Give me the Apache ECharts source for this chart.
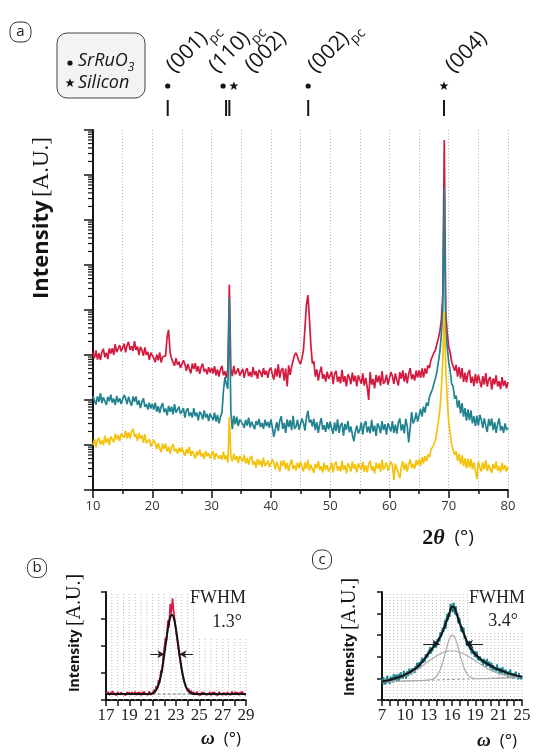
<!DOCTYPE html>
<html>
<head>
<meta charset="utf-8">
<script src="https://cdn.jsdelivr.net/npm/echarts@6/dist/echarts.min.js"></script>
<style>
  html, body { margin: 0; padding: 0; background: #fff; }
  #chart { width: 537px; height: 753px; }
</style>
</head>
<body>
<div id="chart"></div>
<script>
// ---------- (a) 2θ scans: log10 of intensity, sampled every 0.25° from 10° to 80° ----------
const twoThetaStart = 10;
const twoThetaStep = 0.25;

const scanRedLog = [
  3.05, 2.93, 3.10, 2.90, 3.04, 2.89, 3.06, 3.14, 2.95, 3.05, 2.91, 3.15, 3.03, 3.15, 3.00, 3.24, 3.06, 3.10, 3.22, 3.08,
  3.12, 3.25, 3.06, 3.22, 3.29, 3.11, 3.20, 3.09, 3.31, 3.11, 3.19, 3.00, 3.18, 3.11, 2.98, 3.17, 3.00, 3.07, 2.89, 3.05,
  3.05, 2.93, 2.84, 3.01, 2.88, 3.06, 2.83, 2.96, 2.98, 2.98, 3.40, 3.56, 3.06, 2.92, 2.91, 2.76, 2.93, 2.78, 2.85, 2.71,
  2.71, 2.88, 2.80, 2.65, 2.80, 2.69, 2.59, 2.81, 2.69, 2.82, 2.63, 2.75, 2.58, 2.73, 2.81, 2.63, 2.69, 2.57, 2.73, 2.61,
  2.71, 2.59, 2.75, 2.55, 2.68, 2.52, 2.68, 2.76, 2.55, 2.64, 2.49, 2.71, 4.56, 2.69, 2.53, 2.76, 2.57, 2.59, 2.70, 2.54,
  2.56, 2.69, 2.49, 2.65, 2.71, 2.53, 2.62, 2.51, 2.73, 2.55, 2.64, 2.47, 2.67, 2.62, 2.51, 2.71, 2.56, 2.65, 2.49, 2.67,
  2.72, 2.57, 2.45, 2.70, 2.52, 2.79, 2.49, 2.66, 2.71, 2.43, 2.70, 2.30, 2.77, 2.56, 2.74, 2.76, 3.00, 3.05, 3.08, 2.86,
  2.80, 2.93, 3.11, 3.60, 4.11, 4.33, 3.82, 3.22, 2.81, 2.86, 2.52, 2.68, 2.43, 2.62, 2.74, 2.47, 2.57, 2.41, 2.63, 2.47,
  2.46, 2.63, 2.35, 2.58, 2.65, 2.40, 2.52, 2.37, 2.67, 2.40, 2.53, 2.30, 2.57, 2.50, 2.35, 2.61, 2.41, 2.54, 2.30, 2.55,
  2.54, 2.36, 2.59, 2.32, 2.49, 2.29, 2.00, 2.62, 2.34, 2.47, 2.26, 2.56, 2.39, 2.54, 2.32, 2.64, 2.36, 2.41, 2.56, 2.34,
  2.37, 2.62, 2.53, 2.36, 2.59, 2.44, 2.32, 2.62, 2.47, 2.66, 2.41, 2.60, 2.37, 2.58, 2.71, 2.46, 2.57, 2.43, 2.65, 2.50,
  2.66, 2.49, 2.70, 2.50, 2.70, 2.58, 2.77, 2.71, 2.89, 2.89, 3.05, 3.11, 3.24, 3.37, 3.51, 3.78, 4.33, 7.78, 3.96, 3.49,
  3.18, 3.05, 2.85, 2.86, 2.65, 2.78, 2.52, 2.73, 2.48, 2.71, 2.40, 2.61, 2.39, 2.60, 2.67, 2.38, 2.52, 2.31, 2.58, 2.37,
  2.56, 2.41, 2.28, 2.53, 2.34, 2.60, 2.30, 2.46, 2.51, 2.23, 2.48, 2.35, 2.55, 2.30, 2.42, 2.24, 2.51, 2.31, 2.43, 2.26,
  2.40
];

const scanTealLog = [
  2.09, 1.98, 1.90, 2.08, 1.96, 2.15, 1.93, 2.06, 2.09, 1.89, 2.07, 1.97, 2.12, 1.94, 2.03, 1.89, 2.09, 1.95, 2.04, 1.91,
  1.93, 2.11, 2.04, 1.91, 2.07, 1.96, 1.87, 2.08, 1.96, 2.08, 1.89, 1.99, 1.82, 1.96, 2.04, 1.85, 1.91, 1.79, 1.94, 1.81,
  1.91, 1.79, 1.94, 1.74, 1.86, 1.71, 1.86, 1.93, 1.73, 1.81, 1.66, 1.87, 1.74, 1.85, 1.68, 1.91, 1.72, 1.74, 1.85, 1.69,
  1.69, 1.82, 1.61, 1.77, 1.82, 1.64, 1.72, 1.61, 1.82, 1.64, 1.72, 1.55, 1.74, 1.69, 1.57, 1.77, 1.61, 1.69, 1.53, 1.70,
  1.71, 1.55, 1.72, 1.52, 1.67, 1.48, 1.62, 1.72, 2.20, 2.51, 2.35, 2.25, 4.27, 1.75, 1.35, 1.65, 1.46, 1.63, 1.42, 1.57,
  1.58, 1.47, 1.38, 1.56, 1.43, 1.61, 1.39, 1.52, 1.55, 1.35, 1.53, 1.44, 1.58, 1.40, 1.49, 1.36, 1.56, 1.42, 1.51, 1.38,
  1.57, 1.39, 1.18, 1.35, 1.51, 1.31, 1.54, 1.64, 1.36, 1.49, 1.27, 1.57, 1.40, 1.55, 1.33, 1.65, 1.36, 1.41, 1.56, 1.34,
  1.34, 1.59, 1.49, 1.32, 1.60, 1.76, 1.50, 1.56, 1.41, 1.58, 1.33, 1.51, 1.27, 1.47, 1.60, 1.34, 1.44, 1.29, 1.51, 1.35,
  1.52, 1.37, 1.25, 1.50, 1.31, 1.57, 1.27, 1.44, 1.49, 1.21, 1.47, 1.34, 1.53, 1.28, 1.41, 1.23, 1.08, 1.30, 1.43, 1.26,
  1.33, 1.50, 1.23, 1.46, 1.53, 1.28, 1.41, 1.26, 1.56, 1.30, 1.43, 1.20, 1.48, 1.41, 1.26, 1.53, 1.33, 1.46, 1.23, 1.48,
  1.48, 1.30, 1.53, 1.27, 1.45, 1.25, 1.49, 1.59, 1.32, 1.46, 1.26, 1.58, 1.42, 1.06, 1.38, 1.73, 1.48, 1.55, 1.72, 1.52,
  1.54, 1.80, 1.63, 1.85, 1.72, 1.94, 1.87, 2.07, 2.04, 2.24, 2.28, 2.48, 2.62, 2.84, 3.07, 3.44, 4.00, 6.71, 3.56, 3.18,
  2.84, 2.65, 2.36, 2.30, 2.03, 2.10, 1.83, 1.99, 1.70, 1.93, 1.63, 1.82, 1.54, 1.79, 1.55, 1.77, 1.48, 1.64, 1.42, 1.65,
  1.43, 1.67, 1.56, 1.38, 1.59, 1.43, 1.29, 1.58, 1.42, 1.59, 1.33, 1.51, 1.27, 1.46, 1.59, 1.32, 1.42, 1.27, 1.48, 1.33,
  1.38
];

const scanYellowLog = [
  1.00, 1.13, 0.95, 1.11, 1.16, 1.01, 1.10, 1.00, 1.21, 1.05, 1.15, 1.00, 1.19, 1.15, 1.06, 1.25, 1.12, 1.22, 1.08, 1.25,
  1.26, 1.16, 1.32, 1.15, 1.28, 1.14, 1.30, 1.36, 1.18, 1.24, 1.09, 1.27, 1.14, 1.22, 1.05, 1.24, 1.04, 1.05, 1.13, 0.97,
  0.96, 1.11, 1.04, 0.91, 1.04, 0.93, 0.84, 1.03, 0.91, 1.03, 0.86, 0.96, 0.81, 0.95, 1.02, 0.86, 0.91, 0.81, 0.94, 0.84,
  0.95, 0.84, 0.76, 0.91, 0.81, 0.96, 0.76, 0.87, 0.89, 0.70, 0.86, 0.77, 0.90, 0.74, 0.82, 0.69, 0.87, 0.75, 0.82, 0.70,
  0.74, 0.86, 0.67, 0.82, 0.86, 0.70, 0.77, 0.67, 0.85, 0.68, 0.77, 0.61, 1.62, 0.74, 0.64, 0.81, 0.67, 0.75, 0.60, 0.76,
  0.75, 0.63, 0.78, 0.59, 0.71, 0.56, 0.70, 0.76, 0.56, 0.64, 0.49, 0.69, 0.56, 0.66, 0.51, 0.72, 0.53, 0.56, 0.65, 0.51,
  0.48, 0.68, 0.60, 0.46, 0.63, 0.51, 0.41, 0.65, 0.53, 0.66, 0.46, 0.60, 0.42, 0.58, 0.68, 0.47, 0.55, 0.43, 0.61, 0.49,
  0.63, 0.51, 0.41, 0.61, 0.47, 0.67, 0.43, 0.56, 0.60, 0.38, 0.58, 0.48, 0.64, 0.44, 0.53, 0.39, 0.61, 0.45, 0.55, 0.41,
  0.47, 0.61, 0.39, 0.57, 0.63, 0.43, 0.53, 0.41, 0.65, 0.45, 0.55, 0.37, 0.59, 0.53, 0.41, 0.63, 0.47, 0.57, 0.39, 0.59,
  0.59, 0.45, 0.63, 0.41, 0.55, 0.39, 0.57, 0.65, 0.43, 0.53, 0.37, 0.61, 0.47, 0.59, 0.41, 0.67, 0.45, 0.49, 0.61, 0.43,
  0.43, 0.63, 0.55, 0.22, 0.59, 0.47, 0.38, 0.26, 0.50, 0.64, 0.44, 0.59, 0.41, 0.58, 0.68, 0.49, 0.58, 0.47, 0.66, 0.55,
  0.68, 0.54, 0.73, 0.59, 0.75, 0.64, 0.79, 0.73, 0.89, 0.87, 1.01, 1.10, 1.29, 1.52, 1.78, 2.22, 2.89, 3.96, 2.71, 2.00,
  1.51, 1.25, 1.00, 0.97, 0.78, 0.86, 0.65, 0.80, 0.57, 0.77, 0.53, 0.70, 0.48, 0.69, 0.50, 0.69, 0.46, 0.61, 0.43, 0.24,
  0.63, 0.51, 0.41, 0.61, 0.46, 0.66, 0.42, 0.56, 0.60, 0.38, 0.58, 0.47, 0.63, 0.43, 0.53, 0.39, 0.61, 0.45, 0.55, 0.41,
  0.51
];

const twoThetaTickLabels = ['10', '20', '30', '40', '50', '60', '70', '80'];

// reflection markers above panel (a)
const markerAngle = [22.6, 32.45, 33.0, 46.3, 69.2];
const markerPhase = ['SrRuO3', 'SrRuO3', 'Si', 'SrRuO3', 'Si'];
const markerHkl = ['(001)', '(110)', '(002)', '(002)', '(004)'];
const markerSub = ['pc', 'pc', '', 'pc', ''];

// ---------- (b) rocking curve of SrRuO3 (001)pc, ω from 17° in 0.1° steps ----------
const omegaBStart = 17;
const omegaBStep = 0.1;
const rockingB = [
  0.29, 0.21, 0.31, 0.18, 0.26, 0.20, 0.32, 0.22, 0.27, 0.17,
  0.30, 0.23, 0.19, 0.28, 0.33, 0.21, 0.26, 0.18, 0.29, 0.22,
  0.27, 0.19, 0.30, 0.20, 0.25, 0.31, 0.18, 0.27, 0.22, 0.29,
  0.17, 0.28, 0.23, 0.30, 0.21, 0.26, 0.19, 0.32, 0.20, 0.25,
  0.22,
  0.38, 0.27, 0.52, 0.40, 0.75, 0.63, 1.10, 1.02, 1.62,
  1.55, 2.30, 2.20, 2.95, 2.70, 3.55, 3.20, 3.77, 3.30, 3.25,
  2.55, 2.62, 1.90, 1.92, 1.32, 1.30, 0.85, 0.86, 0.52, 0.58,
  0.33, 0.42, 0.25, 0.35,
  0.21, 0.30, 0.19, 0.26, 0.31, 0.20, 0.25, 0.18, 0.29, 0.22,
  0.27, 0.32, 0.19, 0.26, 0.21, 0.30, 0.17, 0.28, 0.23, 0.29,
  0.20, 0.26, 0.18, 0.31, 0.22, 0.27, 0.19, 0.28, 0.25, 0.18,
  0.30, 0.21, 0.26, 0.19, 0.32, 0.22, 0.20, 0.29, 0.23, 0.27,
  0.18, 0.28, 0.22, 0.30, 0.21, 0.25, 0.19
];
const fitB = [
  [17, 0.22], [20.6, 0.22], [21.0, 0.25], [21.2, 0.31], [21.4, 0.45], [21.5, 0.56], [21.6, 0.70],
  [21.7, 0.89], [21.8, 1.12], [21.9, 1.39], [22.0, 1.69], [22.1, 2.01], [22.2, 2.33], [22.3, 2.62],
  [22.4, 2.87], [22.5, 3.05], [22.6, 3.15], [22.7, 3.15], [22.8, 3.05], [22.9, 2.87], [23.0, 2.62],
  [23.1, 2.33], [23.2, 2.01], [23.3, 1.69], [23.4, 1.39], [23.5, 1.12], [23.6, 0.89], [23.7, 0.70],
  [23.8, 0.56], [23.9, 0.45], [24.1, 0.31], [24.3, 0.25], [24.7, 0.22], [29, 0.22]
];
const baselineB = [[21.0, 0.22], [24.6, 0.22]];
const fwhmB = 1.3, centerB = 22.65, halfLevelB = 1.69;
const omegaBTickLabels = ['17', '19', '21', '23', '25', '27', '29'];

// ---------- (c) rocking curve, ω from 7° in 0.1° steps ----------
const omegaCStart = 7;
const omegaCStep = 0.1;
const rockingC = [
  0.98, 0.76, 1.06, 0.71, 0.93, 0.75, 1.00, 1.12, 0.80, 0.95, 0.74, 1.08, 0.89, 1.07, 0.81, 1.20, 0.91, 0.97, 1.17, 0.89,
  0.97, 1.20, 0.88, 1.15, 1.28, 0.99, 1.15, 0.99, 1.36, 1.08, 1.24, 0.99, 1.33, 1.25, 1.11, 1.45, 1.24, 1.41, 1.18, 1.47,
  1.52, 1.38, 1.26, 1.57, 1.41, 1.73, 1.41, 1.64, 1.75, 1.47, 1.77, 1.68, 1.96, 1.72, 1.90, 1.76, 2.11, 1.92, 2.14, 2.00,
  2.31, 2.12, 2.46, 2.15, 2.41, 2.26, 2.54, 2.70, 2.42, 2.60, 2.43, 2.82, 2.68, 2.91, 2.70, 3.14, 2.93, 3.07, 3.35, 3.15,
  3.23, 3.70, 3.30, 3.80, 4.00, 3.70, 4.01, 3.85, 4.45, 4.12, 4.42, 4.05, 4.51, 4.24, 3.95, 4.35, 3.91, 4.03, 3.55, 3.82,
  3.72, 3.42, 3.15, 3.41, 3.09, 3.35, 2.84, 2.98, 2.98, 2.50, 2.74, 2.51, 2.74, 2.33, 2.44, 2.15, 2.47, 2.13, 2.28, 2.00,
  2.25, 1.99, 2.24, 1.86, 2.03, 1.81, 2.02, 2.10, 1.75, 1.86, 1.61, 1.92, 1.69, 1.84, 1.54, 1.90, 1.58, 1.61, 1.78, 1.47,
  1.52, 1.72, 1.36, 1.61, 1.70, 1.38, 1.50, 1.32, 1.65, 1.35, 1.47, 1.19, 1.49, 1.39, 1.21, 1.52, 1.28, 1.41, 1.14, 1.39,
  1.41, 1.23, 1.07, 1.34, 1.14, 1.42, 1.06, 1.24, 1.31, 0.98, 1.24, 1.09, 1.32, 1.02, 1.15, 0.95, 1.24, 0.99, 1.14, 0.95,
  1.12
];
const fitC = [
  [7, 0.86], [7.5, 0.89], [8, 0.93], [8.5, 0.98], [9, 1.03], [9.5, 1.10], [10, 1.18], [10.5, 1.27],
  [11, 1.38], [11.5, 1.52], [12, 1.69], [12.5, 1.92], [13, 2.18], [13.5, 2.40], [14, 2.62], [14.5, 2.92],
  [15, 3.35], [15.5, 3.85], [15.75, 4.12], [16, 4.32], [16.25, 4.30], [16.5, 4.10], [16.75, 3.82],
  [17, 3.55], [17.5, 3.10], [18, 2.64], [18.5, 2.34], [19, 2.12], [19.5, 1.95], [20, 1.80], [20.5, 1.68],
  [21, 1.58], [21.5, 1.49], [22, 1.41], [22.5, 1.34], [23, 1.27], [23.5, 1.21], [24, 1.16], [24.5, 1.11], [25, 1.07]
];
const narrowC = [
  [7, 0.84], [12.5, 0.91], [13, 0.93], [13.5, 0.97], [14, 1.09], [14.5, 1.41], [15, 1.99], [15.5, 2.65],
  [16, 3.00], [16.5, 2.77], [17, 2.13], [17.5, 1.53], [18, 1.17], [18.5, 1.03], [19, 0.99], [25, 1.05]
];
const broadC = [
  [7, 0.88], [8, 0.92], [9, 1.00], [10, 1.12], [11, 1.30], [12, 1.53], [13, 1.80], [14, 2.04], [15, 2.22],
  [16, 2.28], [17, 2.21], [18, 2.04], [19, 1.81], [20, 1.58], [21, 1.37], [22, 1.23], [23, 1.14], [24, 1.09], [25, 1.07]
];
const baselineC = [[7, 0.85], [25, 1.05]];
const fwhmC = 3.4, centerC = 16.1, halfLevelC = 2.6;
const omegaCTickLabels = ['7', '10', '13', '16', '19', '21', '25'];

// ---------- helpers ----------
const toPairs = (start, step, vals) => vals.map((v, i) => [+(start + i * step).toFixed(2), v]);

const INK = '#151515';
const GRID_DOT = '#b9b9b9';
const RED = '#d31b40';
const TEAL = '#21838f';
const YELLOW = '#f4c20b';
const SANS = 'Open Sans';
const SERIF = 'Liberation Serif';

function starPoints(cx, cy, R, r) {
  const pts = [];
  for (let k = 0; k < 10; k++) {
    const a = -Math.PI / 2 + k * Math.PI / 5;
    const rad = k % 2 ? r : R;
    pts.push([cx + rad * Math.cos(a), cy + rad * Math.sin(a)]);
  }
  return pts;
}

// vertical dotted guides at every half degree; the ones under the FWHM note stop short
function guideLines(min, max, step, cutFrom, cutTop, fullTop) {
  const out = [];
  const n = Math.round((max - min) / step);
  for (let k = 1; k <= n; k++) {
    const v = +(min + k * step).toFixed(2);
    out.push([v, v >= cutFrom ? cutTop : fullTop]);
  }
  return out;
}

// minor ticks of the log intensity axis (2..9 within each decade)
const minorLogTicks = [];
for (let d = 0; d < 8; d++) {
  for (let k = 2; k <= 9; k++) minorLogTicks.push([10, d + Math.log10(k)]);
}

const chart = echarts.init(document.getElementById('chart'), null, { renderer: 'canvas' });

const baseXAxis = {
  type: 'value',
  axisLine: { show: true, onZero: false, lineStyle: { color: INK, width: 2 } },
  axisTick: { show: true, length: 6, lineStyle: { color: INK, width: 1.5 } },
  splitLine: { show: false }
};
const baseYAxis = {
  type: 'value',
  axisLine: { show: true, onZero: false, lineStyle: { color: INK, width: 2 } },
  axisTick: { show: true, length: 5, lineStyle: { color: INK, width: 1.5 } },
  axisLabel: { show: false },
  splitLine: { show: false }
};

const arrowMarkLine = (level, tipL, tipR, tailL, tailR) => ({
  silent: true,
  symbol: ['none', 'arrow'],
  symbolSize: [6, 7],
  label: { show: false },
  emphasis: { disabled: true },
  lineStyle: { color: '#222', width: 1, type: 'solid' },
  data: [
    [{ coord: [tailL, level] }, { coord: [tipL, level] }],
    [{ coord: [tailR, level] }, { coord: [tipR, level] }]
  ]
});

const guideRender = (params, api) => {
  const p0 = api.coord([api.value(0), 0]);
  const p1 = api.coord([api.value(0), api.value(1)]);
  return { type: 'line', shape: { x1: p0[0], y1: p0[1], x2: p1[0], y2: p1[1] },
           style: { stroke: GRID_DOT, lineWidth: 1, lineDash: [1, 2] } };
};

const option = {
  animation: false,
  backgroundColor: '#ffffff',
  grid: [
    { left: 93, top: 130, width: 415, height: 360 },
    { left: 106, top: 592, width: 140, height: 108 },
    { left: 382, top: 592, width: 140, height: 108 }
  ],
  xAxis: [
    Object.assign({}, baseXAxis, {
      gridIndex: 0, min: 10, max: 80, interval: 10,
      axisTick: { show: true, length: 8, lineStyle: { color: INK, width: 1.5 } },
      minorTick: { show: true, splitNumber: 2, length: 4, lineStyle: { color: INK, width: 1.5 } },
      splitLine: { show: true, lineStyle: { color: GRID_DOT, type: [1, 2], width: 1 } },
      minorSplitLine: { show: true, lineStyle: { color: GRID_DOT, type: [1, 2], width: 1 } },
      axisLabel: {
        color: '#333', fontSize: 13, fontFamily: SANS, margin: 10,
        formatter: v => twoThetaTickLabels[Math.round((v - 10) / 10)]
      }
    }),
    Object.assign({}, baseXAxis, {
      gridIndex: 1, min: 17, max: 29, interval: 2,
      minorTick: { show: true, splitNumber: 2, length: 6, lineStyle: { color: INK, width: 1.5 } },
      axisLabel: {
        color: '#222', fontSize: 17, fontFamily: SERIF, margin: 7,
        formatter: v => omegaBTickLabels[Math.round((v - 17) / 2)]
      }
    }),
    Object.assign({}, baseXAxis, {
      gridIndex: 2, min: 7, max: 25, interval: 3,
      minorTick: { show: true, splitNumber: 3, length: 6, lineStyle: { color: INK, width: 1.5 } },
      axisLabel: {
        color: '#222', fontSize: 17, fontFamily: SERIF, margin: 7,
        formatter: v => omegaCTickLabels[Math.round((v - 7) / 3)]
      }
    })
  ],
  yAxis: [
    Object.assign({}, baseYAxis, {
      gridIndex: 0, min: 0, max: 8, interval: 1,
      axisTick: { show: true, length: 9, lineStyle: { color: INK, width: 1.5 } }
    }),
    Object.assign({}, baseYAxis, { gridIndex: 1, min: 0, max: 4, interval: 1 }),
    Object.assign({}, baseYAxis, { gridIndex: 2, min: 0, max: 5, interval: 1 })
  ],
  series: [
    // minor log ticks on the intensity axis of (a)
    {
      type: 'custom', xAxisIndex: 0, yAxisIndex: 0, silent: true, clip: false, z: 5,
      data: minorLogTicks,
      renderItem: (params, api) => {
        const p = api.coord([api.value(0), api.value(1)]);
        return { type: 'line', shape: { x1: p[0] - 5, y1: p[1], x2: p[0], y2: p[1] },
                 style: { stroke: INK, lineWidth: 1.2 } };
      }
    },
    // (a) scans
    {
      type: 'line', xAxisIndex: 0, yAxisIndex: 0, symbol: 'none', z: 3,
      data: toPairs(twoThetaStart, twoThetaStep, scanRedLog),
      lineStyle: { color: RED, width: 1.7 }
    },
    {
      type: 'line', xAxisIndex: 0, yAxisIndex: 0, symbol: 'none', z: 4,
      data: toPairs(twoThetaStart, twoThetaStep, scanTealLog),
      lineStyle: { color: TEAL, width: 1.7 }
    },
    {
      type: 'line', xAxisIndex: 0, yAxisIndex: 0, symbol: 'none', z: 5,
      data: toPairs(twoThetaStart, twoThetaStep, scanYellowLog),
      lineStyle: { color: YELLOW, width: 1.7 }
    },
    // reflection markers above (a)
    {
      type: 'custom', xAxisIndex: 0, yAxisIndex: 0, silent: true, clip: false, z: 6,
      data: markerAngle.map(a => [a, 8]),
      renderItem: (params, api) => {
        const symbolDx = [0, -3, 4.5, 0, 0];
        const textDx = [14, -2, 31, 15, 17];
        const i = params.dataIndex;
        const x = api.coord([api.value(0), api.value(1)])[0];
        const children = [
          { type: 'line', shape: { x1: x, y1: 100, x2: x, y2: 116 }, style: { stroke: INK, lineWidth: 2 } }
        ];
        const sx = x + symbolDx[i], sy = 86;
        if (markerPhase[i] === 'Si') {
          children.push({ type: 'polygon', shape: { points: starPoints(sx, sy, 4.8, 2.0) }, style: { fill: INK } });
        } else {
          children.push({ type: 'circle', shape: { cx: sx, cy: sy, r: 2.6 }, style: { fill: INK } });
        }
        const txt = markerSub[i] ? '{m|' + markerHkl[i] + '}{s|' + markerSub[i] + '}' : '{m|' + markerHkl[i] + '}';
        children.push({
          type: 'text', x: x + textDx[i], y: 81, rotation: Math.PI / 4,
          style: {
            text: txt, align: 'left', verticalAlign: 'bottom',
            rich: {
              m: { fontSize: 21, fontFamily: SANS, fill: INK, verticalAlign: 'bottom', padding: [0, 0, 6, 0] },
              s: { fontSize: 14, fontFamily: SANS, fill: INK, verticalAlign: 'bottom' }
            }
          }
        });
        return { type: 'group', children };
      }
    },
    // (b)
    {
      type: 'custom', xAxisIndex: 1, yAxisIndex: 1, silent: true, clip: false, z: 1,
      data: guideLines(17, 29, 0.5, 25, 2.33, 4),
      renderItem: guideRender
    },
    {
      type: 'line', xAxisIndex: 1, yAxisIndex: 1, symbol: 'none', z: 3,
      data: toPairs(omegaBStart, omegaBStep, rockingB),
      lineStyle: { color: RED, width: 1.6 }
    },
    {
      type: 'line', xAxisIndex: 1, yAxisIndex: 1, symbol: 'none', z: 4,
      data: baselineB,
      lineStyle: { color: '#777', width: 1, type: [3, 2] }
    },
    {
      type: 'line', xAxisIndex: 1, yAxisIndex: 1, symbol: 'none', z: 5, smooth: 0.3,
      data: fitB,
      lineStyle: { color: INK, width: 2 },
      markLine: arrowMarkLine(halfLevelB, centerB - fwhmB / 2, centerB + fwhmB / 2, 20.8, 24.45)
    },
    // (c)
    {
      type: 'custom', xAxisIndex: 2, yAxisIndex: 2, silent: true, clip: false, z: 1,
      data: guideLines(7, 25, 0.5, 18.5, 3.14, 5),
      renderItem: guideRender
    },
    {
      type: 'line', xAxisIndex: 2, yAxisIndex: 2, symbol: 'none', z: 3,
      data: toPairs(omegaCStart, omegaCStep, rockingC),
      lineStyle: { color: TEAL, width: 1.8 }
    },
    {
      type: 'line', xAxisIndex: 2, yAxisIndex: 2, symbol: 'none', z: 4,
      data: baselineC,
      lineStyle: { color: '#999', width: 1, type: [3, 2] }
    },
    {
      type: 'line', xAxisIndex: 2, yAxisIndex: 2, symbol: 'none', z: 4, smooth: 0.4,
      data: broadC,
      lineStyle: { color: '#ababab', width: 1.2 }
    },
    {
      type: 'line', xAxisIndex: 2, yAxisIndex: 2, symbol: 'none', z: 4, smooth: 0.4,
      data: narrowC,
      lineStyle: { color: '#ababab', width: 1.2 }
    },
    {
      type: 'line', xAxisIndex: 2, yAxisIndex: 2, symbol: 'none', z: 5, smooth: 0.4,
      data: fitC,
      lineStyle: { color: INK, width: 2 },
      markLine: arrowMarkLine(halfLevelC, centerC - fwhmC / 2, centerC + fwhmC / 2, 12.3, 20.0)
    }
  ],
  graphic: [
    // panel letters
    { type: 'rect', shape: { x: 10, y: 22, width: 21, height: 20, r: 8 }, style: { fill: '#fff', stroke: '#333', lineWidth: 1 } },
    { type: 'text', x: 20.5, y: 32, style: { text: 'a', fontSize: 15, fontFamily: SANS, fill: '#222', align: 'center', verticalAlign: 'middle' } },
    { type: 'rect', shape: { x: 27.5, y: 558.5, width: 19, height: 19, r: 8 }, style: { fill: '#fff', stroke: '#333', lineWidth: 1 } },
    { type: 'text', x: 37, y: 568, style: { text: 'b', fontSize: 15, fontFamily: SANS, fill: '#222', align: 'center', verticalAlign: 'middle' } },
    { type: 'rect', shape: { x: 312.5, y: 550, width: 19, height: 19, r: 8 }, style: { fill: '#fff', stroke: '#333', lineWidth: 1 } },
    { type: 'text', x: 322, y: 559.5, style: { text: 'c', fontSize: 15, fontFamily: SANS, fill: '#222', align: 'center', verticalAlign: 'middle' } },

    // phase key
    { type: 'rect', shape: { x: 57, y: 33, width: 88, height: 65, r: 10 }, style: { fill: '#f3f3f3', stroke: '#444', lineWidth: 1 } },
    { type: 'circle', shape: { cx: 70, cy: 63, r: 2.6 }, style: { fill: INK } },
    { type: 'text', x: 78, y: 63, style: {
        text: '{i|SrRuO}{s|3}', verticalAlign: 'middle', align: 'left',
        rich: {
          i: { fontSize: 18, fontFamily: SANS, fontStyle: 'italic', fill: INK, verticalAlign: 'bottom', padding: [0, 0, 4, 0] },
          s: { fontSize: 12, fontFamily: SANS, fontStyle: 'italic', fill: INK, verticalAlign: 'bottom' }
        } } },
    { type: 'polygon', shape: { points: starPoints(70, 83, 4.8, 2.0) }, style: { fill: INK } },
    { type: 'text', x: 78, y: 83, style: { text: 'Silicon', fontSize: 18, fontFamily: SANS, fontStyle: 'italic', fill: INK, verticalAlign: 'middle', align: 'left' } },

    // axis titles (a)
    { type: 'text', x: 42, y: 218, rotation: Math.PI / 2, style: {
        text: '{b|Intensity} {s|[A.U.]}', align: 'center', verticalAlign: 'middle',
        rich: {
          b: { fontSize: 22, fontFamily: SANS, fontWeight: 'bold', fill: INK },
          s: { fontSize: 23, fontFamily: SERIF, fill: INK }
        } } },
    { type: 'text', x: 448, y: 538, style: {
        text: '{n|2}{t|θ}{p|  (°)}', align: 'center', verticalAlign: 'middle',
        rich: {
          n: { fontSize: 22, fontFamily: SERIF, fontWeight: 'bold', fill: INK },
          t: { fontSize: 22, fontFamily: SERIF, fontWeight: 'bold', fontStyle: 'italic', fill: INK },
          p: { fontSize: 19, fontFamily: SANS, fill: INK }
        } } },

    // axis titles and notes (b)
    { type: 'text', x: 75, y: 633, rotation: Math.PI / 2, style: {
        text: '{b|Intensity} {s|[A.U.]}', align: 'center', verticalAlign: 'middle',
        rich: {
          b: { fontSize: 14, fontFamily: SANS, fontWeight: 'bold', fill: INK },
          s: { fontSize: 20, fontFamily: SERIF, fill: INK }
        } } },
    { type: 'text', x: 221, y: 739, style: {
        text: '{w|ω}{p|  (°)}', align: 'center', verticalAlign: 'middle',
        rich: {
          w: { fontSize: 19, fontFamily: SERIF, fontWeight: 'bold', fontStyle: 'italic', fill: INK },
          p: { fontSize: 17, fontFamily: SANS, fill: INK }
        } } },
    { type: 'text', x: 218, y: 598, style: { text: 'FWHM', fontSize: 18, fontFamily: SERIF, fill: '#222', align: 'center', verticalAlign: 'middle' } },
    { type: 'text', x: 227, y: 622, style: { text: fwhmB.toFixed(1) + '°', fontSize: 18, fontFamily: SERIF, fill: '#222', align: 'center', verticalAlign: 'middle' } },

    // axis titles and notes (c)
    { type: 'text', x: 350, y: 637, rotation: Math.PI / 2, style: {
        text: '{b|Intensity} {s|[A.U.]}', align: 'center', verticalAlign: 'middle',
        rich: {
          b: { fontSize: 14, fontFamily: SANS, fontWeight: 'bold', fill: INK },
          s: { fontSize: 20, fontFamily: SERIF, fill: INK }
        } } },
    { type: 'text', x: 497, y: 741, style: {
        text: '{w|ω}{p|  (°)}', align: 'center', verticalAlign: 'middle',
        rich: {
          w: { fontSize: 19, fontFamily: SERIF, fontWeight: 'bold', fontStyle: 'italic', fill: INK },
          p: { fontSize: 17, fontFamily: SANS, fill: INK }
        } } },
    { type: 'text', x: 497, y: 598, style: { text: 'FWHM', fontSize: 18, fontFamily: SERIF, fill: '#222', align: 'center', verticalAlign: 'middle' } },
    { type: 'text', x: 503, y: 621, style: { text: fwhmC.toFixed(1) + '°', fontSize: 18, fontFamily: SERIF, fill: '#222', align: 'center', verticalAlign: 'middle' } }
  ]
};

chart.setOption(option);
</script>
</body>
</html>
